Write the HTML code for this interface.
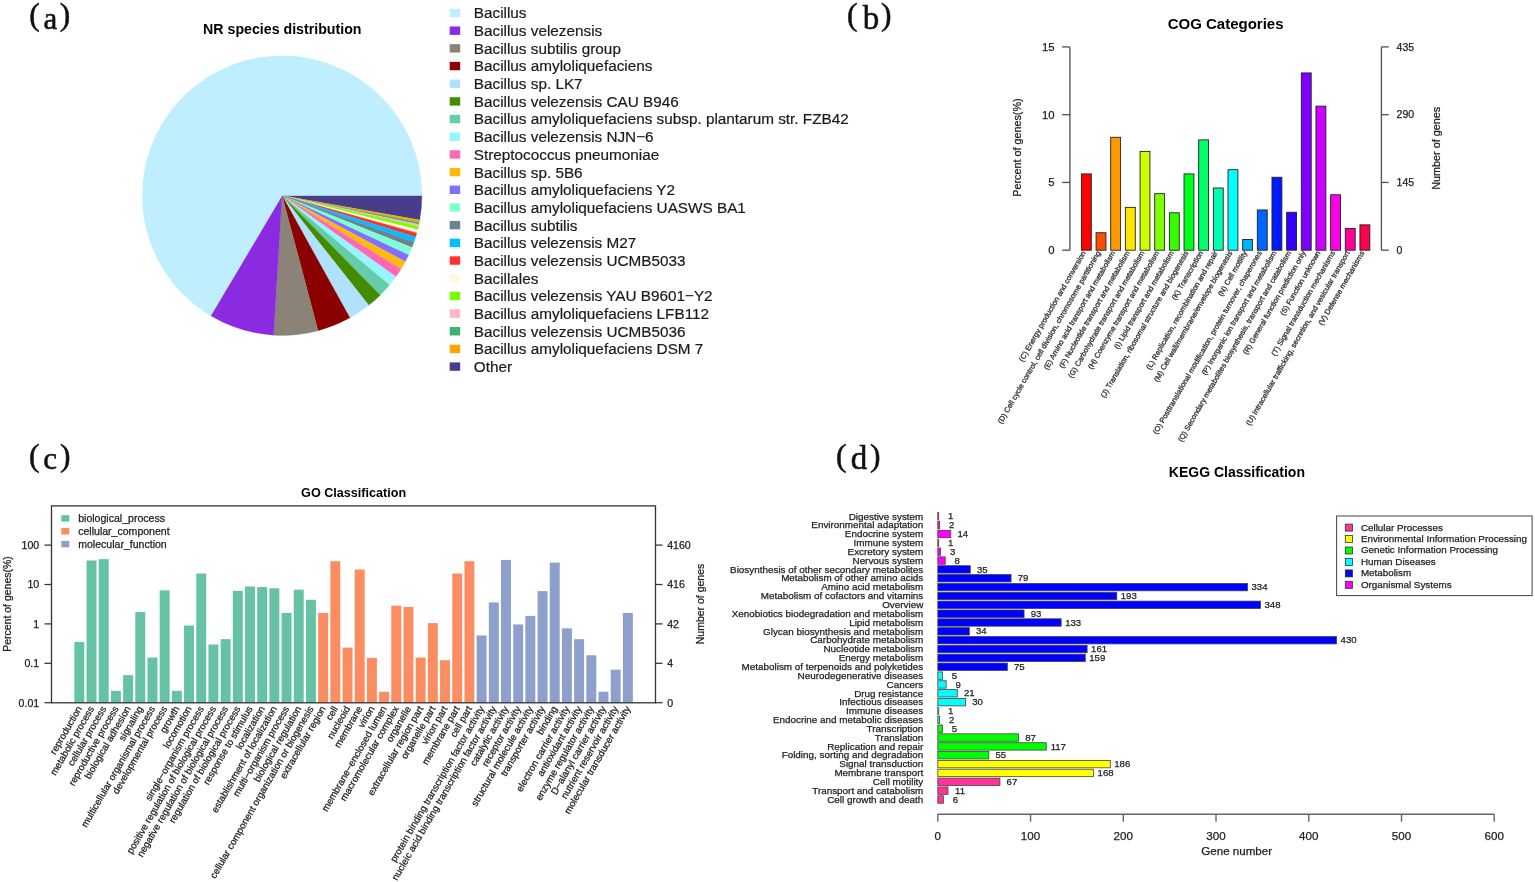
<!DOCTYPE html>
<html><head><meta charset="utf-8"><title>Genome annotation figure</title>
<style>
html,body{margin:0;padding:0;background:#fff;}
svg{display:block;}
text{font-family:'Liberation Sans', Arial, Helvetica, sans-serif;}
</style></head>
<body>
<svg width="1535" height="882" viewBox="0 0 1535 882">
<rect width="1535" height="882" fill="#fff"/>
<text style="font-family:'Liberation Serif', 'Times New Roman', serif" font-size="31.5" fill="#111" stroke="#111" stroke-width="0.55"><tspan x="29.16" y="24.9">(</tspan><tspan x="43.4" y="28.7" font-size="31">a</tspan><tspan x="59.69" y="24.9">)</tspan></text>
<text style="font-family:'Liberation Serif', 'Times New Roman', serif" font-size="31.5" fill="#111" stroke="#111" stroke-width="0.55"><tspan x="847.11" y="24.9">(</tspan><tspan x="862.7" y="28.7" font-size="33">b</tspan><tspan x="881.09" y="24.9">)</tspan></text>
<text style="font-family:'Liberation Serif', 'Times New Roman', serif" font-size="31.5" fill="#111" stroke="#111" stroke-width="0.55"><tspan x="28.96" y="465.8">(</tspan><tspan x="43.35" y="468.9" font-size="31">c</tspan><tspan x="60.09" y="465.8">)</tspan></text>
<text style="font-family:'Liberation Serif', 'Times New Roman', serif" font-size="31.5" fill="#111" stroke="#111" stroke-width="0.55"><tspan x="836.11" y="465.8">(</tspan><tspan x="850.7" y="469.3" font-size="33">d</tspan><tspan x="870.09" y="465.8">)</tspan></text>
<g shape-rendering="geometricPrecision">
<path d="M282.1,195.6 L421.9,195.6 A139.8,139.8 0 0 1 419.73,220.12 Z" fill="#483D8B" stroke="#483D8B" stroke-width="0.3"/>
<path d="M282.1,195.6 L419.73,220.12 A139.8,139.8 0 0 1 419.28,222.51 Z" fill="#FFA500" stroke="#FFA500" stroke-width="0.3"/>
<path d="M282.1,195.6 L419.28,222.51 A139.8,139.8 0 0 1 418.9,224.43 Z" fill="#3CB371" stroke="#3CB371" stroke-width="0.3"/>
<path d="M282.1,195.6 L418.9,224.43 A139.8,139.8 0 0 1 418.48,226.33 Z" fill="#FFB6C1" stroke="#FFB6C1" stroke-width="0.3"/>
<path d="M282.1,195.6 L418.48,226.33 A139.8,139.8 0 0 1 417.69,229.66 Z" fill="#7CFC00" stroke="#7CFC00" stroke-width="0.3"/>
<path d="M282.1,195.6 L417.69,229.66 A139.8,139.8 0 0 1 416.82,232.96 Z" fill="#FFF8DC" stroke="#FFF8DC" stroke-width="0.3"/>
<path d="M282.1,195.6 L416.82,232.96 A139.8,139.8 0 0 1 415.65,236.94 Z" fill="#FF3030" stroke="#FF3030" stroke-width="0.3"/>
<path d="M282.1,195.6 L415.65,236.94 A139.8,139.8 0 0 1 413.88,242.27 Z" fill="#00BFFF" stroke="#00BFFF" stroke-width="0.3"/>
<path d="M282.1,195.6 L413.88,242.27 A139.8,139.8 0 0 1 411.9,247.52 Z" fill="#708090" stroke="#708090" stroke-width="0.3"/>
<path d="M282.1,195.6 L411.9,247.52 A139.8,139.8 0 0 1 408.59,255.12 Z" fill="#7FFFD4" stroke="#7FFFD4" stroke-width="0.3"/>
<path d="M282.1,195.6 L408.59,255.12 A139.8,139.8 0 0 1 405.31,261.66 Z" fill="#836FFF" stroke="#836FFF" stroke-width="0.3"/>
<path d="M282.1,195.6 L405.31,261.66 A139.8,139.8 0 0 1 400.91,269.27 Z" fill="#FFB90F" stroke="#FFB90F" stroke-width="0.3"/>
<path d="M282.1,195.6 L400.91,269.27 A139.8,139.8 0 0 1 395.91,276.78 Z" fill="#FF69B4" stroke="#FF69B4" stroke-width="0.3"/>
<path d="M282.1,195.6 L395.91,276.78 A139.8,139.8 0 0 1 389.51,285.09 Z" fill="#98F5FF" stroke="#98F5FF" stroke-width="0.3"/>
<path d="M282.1,195.6 L389.51,285.09 A139.8,139.8 0 0 1 380.26,295.14 Z" fill="#66CDAA" stroke="#66CDAA" stroke-width="0.3"/>
<path d="M282.1,195.6 L380.26,295.14 A139.8,139.8 0 0 1 368.75,305.31 Z" fill="#458B00" stroke="#458B00" stroke-width="0.3"/>
<path d="M282.1,195.6 L368.75,305.31 A139.8,139.8 0 0 1 349.88,317.87 Z" fill="#B0E2FF" stroke="#B0E2FF" stroke-width="0.3"/>
<path d="M282.1,195.6 L349.88,317.87 A139.8,139.8 0 0 1 318.05,330.7 Z" fill="#8B0000" stroke="#8B0000" stroke-width="0.3"/>
<path d="M282.1,195.6 L318.05,330.7 A139.8,139.8 0 0 1 273.57,335.14 Z" fill="#8B8378" stroke="#8B8378" stroke-width="0.3"/>
<path d="M282.1,195.6 L273.57,335.14 A139.8,139.8 0 0 1 210.73,315.81 Z" fill="#8A2BE2" stroke="#8A2BE2" stroke-width="0.3"/>
<path d="M282.1,195.6 L210.73,315.81 A139.8,139.8 0 1 1 421.9,195.6 Z" fill="#BFEFFF" stroke="#BFEFFF" stroke-width="0.3"/>
</g>
<text x="282.3" y="33.8" font-size="14.2" text-anchor="middle" font-weight="bold">NR species distribution</text>
<rect x="449.7" y="8.8" width="10.5" height="8.4" fill="#BFEFFF"/>
<text x="473.8" y="18.4" font-size="15.3" stroke="#1a1a1a" stroke-width="0.2" fill="#1a1a1a">Bacillus</text>
<rect x="449.7" y="26.48" width="10.5" height="8.4" fill="#8A2BE2"/>
<text x="473.8" y="36.08" font-size="15.3" stroke="#1a1a1a" stroke-width="0.2" fill="#1a1a1a">Bacillus velezensis</text>
<rect x="449.7" y="44.16" width="10.5" height="8.4" fill="#8B8378"/>
<text x="473.8" y="53.76" font-size="15.3" stroke="#1a1a1a" stroke-width="0.2" fill="#1a1a1a">Bacillus subtilis group</text>
<rect x="449.7" y="61.84" width="10.5" height="8.4" fill="#8B0000"/>
<text x="473.8" y="71.44" font-size="15.3" stroke="#1a1a1a" stroke-width="0.2" fill="#1a1a1a">Bacillus amyloliquefaciens</text>
<rect x="449.7" y="79.52" width="10.5" height="8.4" fill="#B0E2FF"/>
<text x="473.8" y="89.12" font-size="15.3" stroke="#1a1a1a" stroke-width="0.2" fill="#1a1a1a">Bacillus sp. LK7</text>
<rect x="449.7" y="97.2" width="10.5" height="8.4" fill="#458B00"/>
<text x="473.8" y="106.8" font-size="15.3" stroke="#1a1a1a" stroke-width="0.2" fill="#1a1a1a">Bacillus velezensis CAU B946</text>
<rect x="449.7" y="114.88" width="10.5" height="8.4" fill="#66CDAA"/>
<text x="473.8" y="124.48" font-size="15.3" stroke="#1a1a1a" stroke-width="0.2" fill="#1a1a1a">Bacillus amyloliquefaciens subsp. plantarum str. FZB42</text>
<rect x="449.7" y="132.56" width="10.5" height="8.4" fill="#98F5FF"/>
<text x="473.8" y="142.16" font-size="15.3" stroke="#1a1a1a" stroke-width="0.2" fill="#1a1a1a">Bacillus velezensis NJN&#8722;6</text>
<rect x="449.7" y="150.24" width="10.5" height="8.4" fill="#FF69B4"/>
<text x="473.8" y="159.84" font-size="15.3" stroke="#1a1a1a" stroke-width="0.2" fill="#1a1a1a">Streptococcus pneumoniae</text>
<rect x="449.7" y="167.92" width="10.5" height="8.4" fill="#FFB90F"/>
<text x="473.8" y="177.52" font-size="15.3" stroke="#1a1a1a" stroke-width="0.2" fill="#1a1a1a">Bacillus sp. 5B6</text>
<rect x="449.7" y="185.6" width="10.5" height="8.4" fill="#836FFF"/>
<text x="473.8" y="195.2" font-size="15.3" stroke="#1a1a1a" stroke-width="0.2" fill="#1a1a1a">Bacillus amyloliquefaciens Y2</text>
<rect x="449.7" y="203.28" width="10.5" height="8.4" fill="#7FFFD4"/>
<text x="473.8" y="212.88" font-size="15.3" stroke="#1a1a1a" stroke-width="0.2" fill="#1a1a1a">Bacillus amyloliquefaciens UASWS BA1</text>
<rect x="449.7" y="220.96" width="10.5" height="8.4" fill="#708090"/>
<text x="473.8" y="230.56" font-size="15.3" stroke="#1a1a1a" stroke-width="0.2" fill="#1a1a1a">Bacillus subtilis</text>
<rect x="449.7" y="238.64" width="10.5" height="8.4" fill="#00BFFF"/>
<text x="473.8" y="248.24" font-size="15.3" stroke="#1a1a1a" stroke-width="0.2" fill="#1a1a1a">Bacillus velezensis M27</text>
<rect x="449.7" y="256.32" width="10.5" height="8.4" fill="#FF3030"/>
<text x="473.8" y="265.92" font-size="15.3" stroke="#1a1a1a" stroke-width="0.2" fill="#1a1a1a">Bacillus velezensis UCMB5033</text>
<rect x="449.7" y="274" width="10.5" height="8.4" fill="#FFF8DC"/>
<text x="473.8" y="283.6" font-size="15.3" stroke="#1a1a1a" stroke-width="0.2" fill="#1a1a1a">Bacillales</text>
<rect x="449.7" y="291.68" width="10.5" height="8.4" fill="#7CFC00"/>
<text x="473.8" y="301.28" font-size="15.3" stroke="#1a1a1a" stroke-width="0.2" fill="#1a1a1a">Bacillus velezensis YAU B9601&#8722;Y2</text>
<rect x="449.7" y="309.36" width="10.5" height="8.4" fill="#FFB6C1"/>
<text x="473.8" y="318.96" font-size="15.3" stroke="#1a1a1a" stroke-width="0.2" fill="#1a1a1a">Bacillus amyloliquefaciens LFB112</text>
<rect x="449.7" y="327.04" width="10.5" height="8.4" fill="#3CB371"/>
<text x="473.8" y="336.64" font-size="15.3" stroke="#1a1a1a" stroke-width="0.2" fill="#1a1a1a">Bacillus velezensis UCMB5036</text>
<rect x="449.7" y="344.72" width="10.5" height="8.4" fill="#FFA500"/>
<text x="473.8" y="354.32" font-size="15.3" stroke="#1a1a1a" stroke-width="0.2" fill="#1a1a1a">Bacillus amyloliquefaciens DSM 7</text>
<rect x="449.7" y="362.4" width="10.5" height="8.4" fill="#483D8B"/>
<text x="473.8" y="372" font-size="15.3" stroke="#1a1a1a" stroke-width="0.2" fill="#1a1a1a">Other</text>
<rect x="1081.4" y="173.9" width="9.9" height="76.3" fill="#FF0000" stroke="#222" stroke-width="0.9"/>
<rect x="1096.06" y="232.72" width="9.9" height="17.48" fill="#FF4D00" stroke="#222" stroke-width="0.9"/>
<rect x="1110.72" y="137.3" width="9.9" height="112.9" fill="#FF9900" stroke="#222" stroke-width="0.9"/>
<rect x="1125.38" y="207.37" width="9.9" height="42.83" fill="#FFE500" stroke="#222" stroke-width="0.9"/>
<rect x="1140.04" y="151.4" width="9.9" height="98.8" fill="#CCFF00" stroke="#222" stroke-width="0.9"/>
<rect x="1154.7" y="193.68" width="9.9" height="56.52" fill="#80FF00" stroke="#222" stroke-width="0.9"/>
<rect x="1169.36" y="212.79" width="9.9" height="37.41" fill="#33FF00" stroke="#222" stroke-width="0.9"/>
<rect x="1184.02" y="173.9" width="9.9" height="76.3" fill="#00FF19" stroke="#222" stroke-width="0.9"/>
<rect x="1198.68" y="139.88" width="9.9" height="110.32" fill="#00FF66" stroke="#222" stroke-width="0.9"/>
<rect x="1213.34" y="187.99" width="9.9" height="62.21" fill="#00FFB2" stroke="#222" stroke-width="0.9"/>
<rect x="1228" y="169.7" width="9.9" height="80.5" fill="#00FFFF" stroke="#222" stroke-width="0.9"/>
<rect x="1242.66" y="239.49" width="9.9" height="10.71" fill="#00B3FF" stroke="#222" stroke-width="0.9"/>
<rect x="1257.32" y="209.95" width="9.9" height="40.25" fill="#0066FF" stroke="#222" stroke-width="0.9"/>
<rect x="1271.98" y="177.28" width="9.9" height="72.92" fill="#001AFF" stroke="#222" stroke-width="0.9"/>
<rect x="1286.64" y="212.25" width="9.9" height="37.95" fill="#3300FF" stroke="#222" stroke-width="0.9"/>
<rect x="1301.3" y="72.93" width="9.9" height="177.27" fill="#7F00FF" stroke="#222" stroke-width="0.9"/>
<rect x="1315.96" y="106.13" width="9.9" height="144.07" fill="#CC00FF" stroke="#222" stroke-width="0.9"/>
<rect x="1330.62" y="194.77" width="9.9" height="55.43" fill="#FF00E6" stroke="#222" stroke-width="0.9"/>
<rect x="1345.28" y="228.52" width="9.9" height="21.68" fill="#FF0099" stroke="#222" stroke-width="0.9"/>
<rect x="1359.94" y="224.86" width="9.9" height="25.34" fill="#FF004D" stroke="#222" stroke-width="0.9"/>
<path d="M1069.9,250.2 V46.9" stroke="#555" stroke-width="1.35" fill="none"/>
<path d="M1069.9,250.2 H1062.1000000000001" stroke="#555" stroke-width="1.35"/>
<text x="1054.6" y="254.2" font-size="11.3" stroke="#222" stroke-width="0.25" text-anchor="end" fill="#222">0</text>
<path d="M1069.9,182.44 H1062.1000000000001" stroke="#555" stroke-width="1.35"/>
<text x="1054.6" y="186.44" font-size="11.3" stroke="#222" stroke-width="0.25" text-anchor="end" fill="#222">5</text>
<path d="M1069.9,114.67 H1062.1000000000001" stroke="#555" stroke-width="1.35"/>
<text x="1054.6" y="118.67" font-size="11.3" stroke="#222" stroke-width="0.25" text-anchor="end" fill="#222">10</text>
<path d="M1069.9,46.9 H1062.1000000000001" stroke="#555" stroke-width="1.35"/>
<text x="1054.6" y="50.9" font-size="11.3" stroke="#222" stroke-width="0.25" text-anchor="end" fill="#222">15</text>
<path d="M1381.4,250.2 V46.9" stroke="#555" stroke-width="1.35" fill="none"/>
<path d="M1381.4,250.2 H1388.7" stroke="#555" stroke-width="1.35"/>
<text x="1396.6" y="254" font-size="10.5" stroke="#222" stroke-width="0.25" fill="#222">0</text>
<path d="M1381.4,182.44 H1388.7" stroke="#555" stroke-width="1.35"/>
<text x="1396.6" y="186.24" font-size="10.5" stroke="#222" stroke-width="0.25" fill="#222">145</text>
<path d="M1381.4,114.67 H1388.7" stroke="#555" stroke-width="1.35"/>
<text x="1396.6" y="118.47" font-size="10.5" stroke="#222" stroke-width="0.25" fill="#222">290</text>
<path d="M1381.4,46.9 H1388.7" stroke="#555" stroke-width="1.35"/>
<text x="1396.6" y="50.7" font-size="10.5" stroke="#222" stroke-width="0.25" fill="#222">435</text>
<text transform="translate(1020.8,147.6) rotate(-90)" font-size="10.8" text-anchor="middle" stroke="#222" stroke-width="0.25" fill="#222">Percent of genes(%)</text>
<text transform="translate(1440.2,148.3) rotate(-90)" font-size="10.8" text-anchor="middle" stroke="#222" stroke-width="0.25" fill="#222">Number of genes</text>
<text x="1225.6" y="28.8" font-size="15" text-anchor="middle" font-weight="bold">COG Categories</text>
<text transform="translate(1083.85,251.5) rotate(-60)" font-size="7.5" text-anchor="end" dy="2.6" stroke="#333" stroke-width="0.3" fill="#333">(C) Energy production and conversion</text>
<text transform="translate(1098.51,251.5) rotate(-60)" font-size="7.5" text-anchor="end" dy="2.6" stroke="#333" stroke-width="0.3" fill="#333">(D) Cell cycle control, cell division, chromosome partitioning</text>
<text transform="translate(1113.17,251.5) rotate(-60)" font-size="7.5" text-anchor="end" dy="2.6" stroke="#333" stroke-width="0.3" fill="#333">(E) Amino acid transport and metabolism</text>
<text transform="translate(1127.83,251.5) rotate(-60)" font-size="7.5" text-anchor="end" dy="2.6" stroke="#333" stroke-width="0.3" fill="#333">(F) Nucleotide transport and metabolism</text>
<text transform="translate(1142.49,251.5) rotate(-60)" font-size="7.5" text-anchor="end" dy="2.6" stroke="#333" stroke-width="0.3" fill="#333">(G) Carbohydrate transport and metabolism</text>
<text transform="translate(1157.15,251.5) rotate(-60)" font-size="7.5" text-anchor="end" dy="2.6" stroke="#333" stroke-width="0.3" fill="#333">(H) Coenzyme transport and metabolism</text>
<text transform="translate(1171.81,251.5) rotate(-60)" font-size="7.5" text-anchor="end" dy="2.6" stroke="#333" stroke-width="0.3" fill="#333">(I) Lipid transport and metabolism</text>
<text transform="translate(1186.47,251.5) rotate(-60)" font-size="7.5" text-anchor="end" dy="2.6" stroke="#333" stroke-width="0.3" fill="#333">(J) Translation, ribosomal structure and biogenesis</text>
<text transform="translate(1201.13,251.5) rotate(-60)" font-size="7.5" text-anchor="end" dy="2.6" stroke="#333" stroke-width="0.3" fill="#333">(K) Transcription</text>
<text transform="translate(1215.79,251.5) rotate(-60)" font-size="7.5" text-anchor="end" dy="2.6" stroke="#333" stroke-width="0.3" fill="#333">(L) Replication, recombination and repair</text>
<text transform="translate(1230.45,251.5) rotate(-60)" font-size="7.5" text-anchor="end" dy="2.6" stroke="#333" stroke-width="0.3" fill="#333">(M) Cell wall/membrane/envelope biogenesis</text>
<text transform="translate(1245.11,251.5) rotate(-60)" font-size="7.5" text-anchor="end" dy="2.6" stroke="#333" stroke-width="0.3" fill="#333">(N) Cell motility</text>
<text transform="translate(1259.77,251.5) rotate(-60)" font-size="7.5" text-anchor="end" dy="2.6" stroke="#333" stroke-width="0.3" fill="#333">(O) Posttranslational modification, protein turnover, chaperones</text>
<text transform="translate(1274.43,251.5) rotate(-60)" font-size="7.5" text-anchor="end" dy="2.6" stroke="#333" stroke-width="0.3" fill="#333">(P) Inorganic ion transport and metabolism</text>
<text transform="translate(1289.09,251.5) rotate(-60)" font-size="7.5" text-anchor="end" dy="2.6" stroke="#333" stroke-width="0.3" fill="#333">(Q) Secondary metabolites biosynthesis, transport and catabolism</text>
<text transform="translate(1303.75,251.5) rotate(-60)" font-size="7.5" text-anchor="end" dy="2.6" stroke="#333" stroke-width="0.3" fill="#333">(R) General function prediction only</text>
<text transform="translate(1318.41,251.5) rotate(-60)" font-size="7.5" text-anchor="end" dy="2.6" stroke="#333" stroke-width="0.3" fill="#333">(S) Function unknown</text>
<text transform="translate(1333.07,251.5) rotate(-60)" font-size="7.5" text-anchor="end" dy="2.6" stroke="#333" stroke-width="0.3" fill="#333">(T) Signal transduction mechanisms</text>
<text transform="translate(1347.73,251.5) rotate(-60)" font-size="7.5" text-anchor="end" dy="2.6" stroke="#333" stroke-width="0.3" fill="#333">(U) Intracellular trafficking, secretion, and vesicular transport</text>
<text transform="translate(1362.39,251.5) rotate(-60)" font-size="7.5" text-anchor="end" dy="2.6" stroke="#333" stroke-width="0.3" fill="#333">(V) Defense mechanisms</text>
<rect x="74.35" y="641.86" width="9.95" height="60.94" fill="#66C2A5"/>
<rect x="86.54" y="560.48" width="9.95" height="142.32" fill="#66C2A5"/>
<rect x="98.73" y="559.15" width="9.95" height="143.65" fill="#66C2A5"/>
<rect x="110.92" y="690.84" width="9.95" height="11.96" fill="#66C2A5"/>
<rect x="123.11" y="675.16" width="9.95" height="27.64" fill="#66C2A5"/>
<rect x="135.3" y="612.04" width="9.95" height="90.76" fill="#66C2A5"/>
<rect x="147.49" y="657.54" width="9.95" height="45.26" fill="#66C2A5"/>
<rect x="159.68" y="590.36" width="9.95" height="112.44" fill="#66C2A5"/>
<rect x="171.87" y="690.84" width="9.95" height="11.96" fill="#66C2A5"/>
<rect x="184.06" y="625.51" width="9.95" height="77.29" fill="#66C2A5"/>
<rect x="196.25" y="573.52" width="9.95" height="129.28" fill="#66C2A5"/>
<rect x="208.44" y="644.5" width="9.95" height="58.3" fill="#66C2A5"/>
<rect x="220.63" y="639.16" width="9.95" height="63.64" fill="#66C2A5"/>
<rect x="232.82" y="590.85" width="9.95" height="111.95" fill="#66C2A5"/>
<rect x="245.01" y="586.49" width="9.95" height="116.31" fill="#66C2A5"/>
<rect x="257.2" y="587.08" width="9.95" height="115.72" fill="#66C2A5"/>
<rect x="269.39" y="588.32" width="9.95" height="114.48" fill="#66C2A5"/>
<rect x="281.58" y="612.92" width="9.95" height="89.88" fill="#66C2A5"/>
<rect x="293.77" y="589.65" width="9.95" height="113.15" fill="#66C2A5"/>
<rect x="305.96" y="599.76" width="9.95" height="103.04" fill="#66C2A5"/>
<rect x="318.15" y="612.92" width="9.95" height="89.88" fill="#FC8D62"/>
<rect x="330.34" y="561.21" width="9.95" height="141.59" fill="#FC8D62"/>
<rect x="342.53" y="647.62" width="9.95" height="55.18" fill="#FC8D62"/>
<rect x="354.72" y="569.52" width="9.95" height="133.28" fill="#FC8D62"/>
<rect x="366.91" y="657.91" width="9.95" height="44.89" fill="#FC8D62"/>
<rect x="379.1" y="691.72" width="9.95" height="11.08" fill="#FC8D62"/>
<rect x="391.29" y="605.68" width="9.95" height="97.12" fill="#FC8D62"/>
<rect x="403.48" y="606.9" width="9.95" height="95.9" fill="#FC8D62"/>
<rect x="415.67" y="657.54" width="9.95" height="45.26" fill="#FC8D62"/>
<rect x="427.86" y="623.07" width="9.95" height="79.73" fill="#FC8D62"/>
<rect x="440.05" y="660.18" width="9.95" height="42.62" fill="#FC8D62"/>
<rect x="452.24" y="573.52" width="9.95" height="129.28" fill="#FC8D62"/>
<rect x="464.43" y="561.21" width="9.95" height="141.59" fill="#FC8D62"/>
<rect x="476.62" y="635.42" width="9.95" height="67.38" fill="#8DA0CB"/>
<rect x="488.81" y="602.46" width="9.95" height="100.34" fill="#8DA0CB"/>
<rect x="501" y="559.94" width="9.95" height="142.86" fill="#8DA0CB"/>
<rect x="513.19" y="624.42" width="9.95" height="78.38" fill="#8DA0CB"/>
<rect x="525.38" y="615.86" width="9.95" height="86.94" fill="#8DA0CB"/>
<rect x="537.57" y="591.1" width="9.95" height="111.7" fill="#8DA0CB"/>
<rect x="549.76" y="562.58" width="9.95" height="140.22" fill="#8DA0CB"/>
<rect x="561.95" y="628.37" width="9.95" height="74.43" fill="#8DA0CB"/>
<rect x="574.14" y="639.16" width="9.95" height="63.64" fill="#8DA0CB"/>
<rect x="586.33" y="655.26" width="9.95" height="47.54" fill="#8DA0CB"/>
<rect x="598.52" y="691.72" width="9.95" height="11.08" fill="#8DA0CB"/>
<rect x="610.71" y="669.65" width="9.95" height="33.15" fill="#8DA0CB"/>
<rect x="622.9" y="612.92" width="9.95" height="89.88" fill="#8DA0CB"/>
<rect x="51.5" y="505.9" width="604" height="196.9" fill="none" stroke="#333" stroke-width="1.3"/>
<path d="M51.5,545.1 H44.5" stroke="#333" stroke-width="1.25"/>
<text x="39.2" y="548.9" font-size="10.6" stroke="#222" stroke-width="0.25" text-anchor="end" fill="#222">100</text>
<path d="M51.5,584.5 H44.5" stroke="#333" stroke-width="1.25"/>
<text x="39.2" y="588.3" font-size="10.6" stroke="#222" stroke-width="0.25" text-anchor="end" fill="#222">10</text>
<path d="M51.5,623.9 H44.5" stroke="#333" stroke-width="1.25"/>
<text x="39.2" y="627.7" font-size="10.6" stroke="#222" stroke-width="0.25" text-anchor="end" fill="#222">1</text>
<path d="M51.5,663.3 H44.5" stroke="#333" stroke-width="1.25"/>
<text x="39.2" y="667.1" font-size="10.6" stroke="#222" stroke-width="0.25" text-anchor="end" fill="#222">0.1</text>
<path d="M51.5,702.7 H44.5" stroke="#333" stroke-width="1.25"/>
<text x="39.2" y="706.5" font-size="10.6" stroke="#222" stroke-width="0.25" text-anchor="end" fill="#222">0.01</text>
<path d="M655.5,545.1 H662.5" stroke="#333" stroke-width="1.25"/>
<text x="667.2" y="548.9" font-size="10.6" stroke="#222" stroke-width="0.25" fill="#222">4160</text>
<path d="M655.5,584.5 H662.5" stroke="#333" stroke-width="1.25"/>
<text x="667.2" y="588.3" font-size="10.6" stroke="#222" stroke-width="0.25" fill="#222">416</text>
<path d="M655.5,623.9 H662.5" stroke="#333" stroke-width="1.25"/>
<text x="667.2" y="627.7" font-size="10.6" stroke="#222" stroke-width="0.25" fill="#222">42</text>
<path d="M655.5,663.3 H662.5" stroke="#333" stroke-width="1.25"/>
<text x="667.2" y="667.1" font-size="10.6" stroke="#222" stroke-width="0.25" fill="#222">4</text>
<path d="M655.5,702.7 H662.5" stroke="#333" stroke-width="1.25"/>
<text x="667.2" y="706.5" font-size="10.6" stroke="#222" stroke-width="0.25" fill="#222">0</text>
<text transform="translate(10.8,604) rotate(-90)" font-size="10.5" text-anchor="middle" stroke="#222" stroke-width="0.25" fill="#222">Percent of genes(%)</text>
<text transform="translate(703.8,604) rotate(-90)" font-size="10.5" text-anchor="middle" stroke="#222" stroke-width="0.25" fill="#222">Number of genes</text>
<text x="353.6" y="497.2" font-size="12.6" text-anchor="middle" font-weight="bold">GO Classification</text>
<rect x="61.3" y="515.2" width="8" height="6.4" fill="#66C2A5"/>
<text x="78.2" y="522.2" font-size="10.55" stroke="#222" stroke-width="0.25" fill="#222">biological_process</text>
<rect x="61.3" y="528.05" width="8" height="6.4" fill="#FC8D62"/>
<text x="78.2" y="535.05" font-size="10.55" stroke="#222" stroke-width="0.25" fill="#222">cellular_component</text>
<rect x="61.3" y="540.9" width="8" height="6.4" fill="#8DA0CB"/>
<text x="78.2" y="547.9" font-size="10.55" stroke="#222" stroke-width="0.25" fill="#222">molecular_function</text>
<text transform="translate(79.32,706.8) rotate(-60)" font-size="9.7" text-anchor="end" dy="3.4" stroke="#222" stroke-width="0.25" fill="#222">reproduction</text>
<text transform="translate(91.51,706.8) rotate(-60)" font-size="9.7" text-anchor="end" dy="3.4" stroke="#222" stroke-width="0.25" fill="#222">metabolic process</text>
<text transform="translate(103.7,706.8) rotate(-60)" font-size="9.7" text-anchor="end" dy="3.4" stroke="#222" stroke-width="0.25" fill="#222">cellular process</text>
<text transform="translate(115.89,706.8) rotate(-60)" font-size="9.7" text-anchor="end" dy="3.4" stroke="#222" stroke-width="0.25" fill="#222">reproductive process</text>
<text transform="translate(128.08,706.8) rotate(-60)" font-size="9.7" text-anchor="end" dy="3.4" stroke="#222" stroke-width="0.25" fill="#222">biological adhesion</text>
<text transform="translate(140.27,706.8) rotate(-60)" font-size="9.7" text-anchor="end" dy="3.4" stroke="#222" stroke-width="0.25" fill="#222">signaling</text>
<text transform="translate(152.47,706.8) rotate(-60)" font-size="9.7" text-anchor="end" dy="3.4" stroke="#222" stroke-width="0.25" fill="#222">multicellular organismal process</text>
<text transform="translate(164.66,706.8) rotate(-60)" font-size="9.7" text-anchor="end" dy="3.4" stroke="#222" stroke-width="0.25" fill="#222">developmental process</text>
<text transform="translate(176.84,706.8) rotate(-60)" font-size="9.7" text-anchor="end" dy="3.4" stroke="#222" stroke-width="0.25" fill="#222">growth</text>
<text transform="translate(189.03,706.8) rotate(-60)" font-size="9.7" text-anchor="end" dy="3.4" stroke="#222" stroke-width="0.25" fill="#222">locomotion</text>
<text transform="translate(201.22,706.8) rotate(-60)" font-size="9.7" text-anchor="end" dy="3.4" stroke="#222" stroke-width="0.25" fill="#222">single&#8722;organism process</text>
<text transform="translate(213.41,706.8) rotate(-60)" font-size="9.7" text-anchor="end" dy="3.4" stroke="#222" stroke-width="0.25" fill="#222">positive regulation of biological process</text>
<text transform="translate(225.6,706.8) rotate(-60)" font-size="9.7" text-anchor="end" dy="3.4" stroke="#222" stroke-width="0.25" fill="#222">negative regulation of biological process</text>
<text transform="translate(237.79,706.8) rotate(-60)" font-size="9.7" text-anchor="end" dy="3.4" stroke="#222" stroke-width="0.25" fill="#222">regulation of biological process</text>
<text transform="translate(249.98,706.8) rotate(-60)" font-size="9.7" text-anchor="end" dy="3.4" stroke="#222" stroke-width="0.25" fill="#222">response to stimulus</text>
<text transform="translate(262.18,706.8) rotate(-60)" font-size="9.7" text-anchor="end" dy="3.4" stroke="#222" stroke-width="0.25" fill="#222">localization</text>
<text transform="translate(274.37,706.8) rotate(-60)" font-size="9.7" text-anchor="end" dy="3.4" stroke="#222" stroke-width="0.25" fill="#222">establishment of localization</text>
<text transform="translate(286.56,706.8) rotate(-60)" font-size="9.7" text-anchor="end" dy="3.4" stroke="#222" stroke-width="0.25" fill="#222">multi&#8722;organism process</text>
<text transform="translate(298.75,706.8) rotate(-60)" font-size="9.7" text-anchor="end" dy="3.4" stroke="#222" stroke-width="0.25" fill="#222">biological regulation</text>
<text transform="translate(310.94,706.8) rotate(-60)" font-size="9.7" text-anchor="end" dy="3.4" stroke="#222" stroke-width="0.25" fill="#222">cellular component organization or biogenesis</text>
<text transform="translate(323.12,706.8) rotate(-60)" font-size="9.7" text-anchor="end" dy="3.4" stroke="#222" stroke-width="0.25" fill="#222">extracellular region</text>
<text transform="translate(335.31,706.8) rotate(-60)" font-size="9.7" text-anchor="end" dy="3.4" stroke="#222" stroke-width="0.25" fill="#222">cell</text>
<text transform="translate(347.5,706.8) rotate(-60)" font-size="9.7" text-anchor="end" dy="3.4" stroke="#222" stroke-width="0.25" fill="#222">nucleoid</text>
<text transform="translate(359.7,706.8) rotate(-60)" font-size="9.7" text-anchor="end" dy="3.4" stroke="#222" stroke-width="0.25" fill="#222">membrane</text>
<text transform="translate(371.88,706.8) rotate(-60)" font-size="9.7" text-anchor="end" dy="3.4" stroke="#222" stroke-width="0.25" fill="#222">virion</text>
<text transform="translate(384.08,706.8) rotate(-60)" font-size="9.7" text-anchor="end" dy="3.4" stroke="#222" stroke-width="0.25" fill="#222">membrane&#8722;enclosed lumen</text>
<text transform="translate(396.26,706.8) rotate(-60)" font-size="9.7" text-anchor="end" dy="3.4" stroke="#222" stroke-width="0.25" fill="#222">macromolecular complex</text>
<text transform="translate(408.46,706.8) rotate(-60)" font-size="9.7" text-anchor="end" dy="3.4" stroke="#222" stroke-width="0.25" fill="#222">organelle</text>
<text transform="translate(420.64,706.8) rotate(-60)" font-size="9.7" text-anchor="end" dy="3.4" stroke="#222" stroke-width="0.25" fill="#222">extracellular region part</text>
<text transform="translate(432.84,706.8) rotate(-60)" font-size="9.7" text-anchor="end" dy="3.4" stroke="#222" stroke-width="0.25" fill="#222">organelle part</text>
<text transform="translate(445.02,706.8) rotate(-60)" font-size="9.7" text-anchor="end" dy="3.4" stroke="#222" stroke-width="0.25" fill="#222">virion part</text>
<text transform="translate(457.22,706.8) rotate(-60)" font-size="9.7" text-anchor="end" dy="3.4" stroke="#222" stroke-width="0.25" fill="#222">membrane part</text>
<text transform="translate(469.4,706.8) rotate(-60)" font-size="9.7" text-anchor="end" dy="3.4" stroke="#222" stroke-width="0.25" fill="#222">cell part</text>
<text transform="translate(481.6,706.8) rotate(-60)" font-size="9.7" text-anchor="end" dy="3.4" stroke="#222" stroke-width="0.25" fill="#222">protein binding transcription factor activity</text>
<text transform="translate(493.78,706.8) rotate(-60)" font-size="9.7" text-anchor="end" dy="3.4" stroke="#222" stroke-width="0.25" fill="#222">nucleic acid binding transcription factor activity</text>
<text transform="translate(505.98,706.8) rotate(-60)" font-size="9.7" text-anchor="end" dy="3.4" stroke="#222" stroke-width="0.25" fill="#222">catalytic activity</text>
<text transform="translate(518.16,706.8) rotate(-60)" font-size="9.7" text-anchor="end" dy="3.4" stroke="#222" stroke-width="0.25" fill="#222">receptor activity</text>
<text transform="translate(530.36,706.8) rotate(-60)" font-size="9.7" text-anchor="end" dy="3.4" stroke="#222" stroke-width="0.25" fill="#222">structural molecule activity</text>
<text transform="translate(542.54,706.8) rotate(-60)" font-size="9.7" text-anchor="end" dy="3.4" stroke="#222" stroke-width="0.25" fill="#222">transporter activity</text>
<text transform="translate(554.74,706.8) rotate(-60)" font-size="9.7" text-anchor="end" dy="3.4" stroke="#222" stroke-width="0.25" fill="#222">binding</text>
<text transform="translate(566.92,706.8) rotate(-60)" font-size="9.7" text-anchor="end" dy="3.4" stroke="#222" stroke-width="0.25" fill="#222">electron carrier activity</text>
<text transform="translate(579.12,706.8) rotate(-60)" font-size="9.7" text-anchor="end" dy="3.4" stroke="#222" stroke-width="0.25" fill="#222">antioxidant activity</text>
<text transform="translate(591.3,706.8) rotate(-60)" font-size="9.7" text-anchor="end" dy="3.4" stroke="#222" stroke-width="0.25" fill="#222">enzyme regulator activity</text>
<text transform="translate(603.5,706.8) rotate(-60)" font-size="9.7" text-anchor="end" dy="3.4" stroke="#222" stroke-width="0.25" fill="#222">D&#8722;alanyl carrier activity</text>
<text transform="translate(615.69,706.8) rotate(-60)" font-size="9.7" text-anchor="end" dy="3.4" stroke="#222" stroke-width="0.25" fill="#222">nutrient reservoir activity</text>
<text transform="translate(627.88,706.8) rotate(-60)" font-size="9.7" text-anchor="end" dy="3.4" stroke="#222" stroke-width="0.25" fill="#222">molecular transducer activity</text>
<rect x="937.8" y="512.6" width="0.93" height="7.4" fill="#FF00FF" stroke="#444" stroke-width="0.8"/>
<text x="923.3" y="519.5" font-size="9.9" stroke="#222" stroke-width="0.25" text-anchor="end" fill="#222">Digestive system</text>
<text x="950.73" y="519.4" font-size="9.6" stroke="#222" stroke-width="0.25" text-anchor="middle" fill="#222">1</text>
<rect x="937.8" y="521.45" width="1.85" height="7.4" fill="#FF00FF" stroke="#444" stroke-width="0.8"/>
<text x="923.3" y="528.35" font-size="9.9" stroke="#222" stroke-width="0.25" text-anchor="end" fill="#222">Environmental adaptation</text>
<text x="951.65" y="528.25" font-size="9.6" stroke="#222" stroke-width="0.25" text-anchor="middle" fill="#222">2</text>
<rect x="937.8" y="530.3" width="12.98" height="7.4" fill="#FF00FF" stroke="#444" stroke-width="0.8"/>
<text x="923.3" y="537.2" font-size="9.9" stroke="#222" stroke-width="0.25" text-anchor="end" fill="#222">Endocrine system</text>
<text x="962.78" y="537.1" font-size="9.6" stroke="#222" stroke-width="0.25" text-anchor="middle" fill="#222">14</text>
<rect x="937.8" y="539.15" width="0.93" height="7.4" fill="#FF00FF" stroke="#444" stroke-width="0.8"/>
<text x="923.3" y="546.05" font-size="9.9" stroke="#222" stroke-width="0.25" text-anchor="end" fill="#222">Immune system</text>
<text x="950.73" y="545.95" font-size="9.6" stroke="#222" stroke-width="0.25" text-anchor="middle" fill="#222">1</text>
<rect x="937.8" y="548" width="2.78" height="7.4" fill="#FF00FF" stroke="#444" stroke-width="0.8"/>
<text x="923.3" y="554.9" font-size="9.9" stroke="#222" stroke-width="0.25" text-anchor="end" fill="#222">Excretory system</text>
<text x="952.58" y="554.8" font-size="9.6" stroke="#222" stroke-width="0.25" text-anchor="middle" fill="#222">3</text>
<rect x="937.8" y="556.85" width="7.42" height="7.4" fill="#FF00FF" stroke="#444" stroke-width="0.8"/>
<text x="923.3" y="563.75" font-size="9.9" stroke="#222" stroke-width="0.25" text-anchor="end" fill="#222">Nervous system</text>
<text x="957.22" y="563.65" font-size="9.6" stroke="#222" stroke-width="0.25" text-anchor="middle" fill="#222">8</text>
<rect x="937.8" y="565.7" width="32.46" height="7.4" fill="#0000FF" stroke="#444" stroke-width="0.8"/>
<text x="923.3" y="572.6" font-size="9.9" stroke="#222" stroke-width="0.25" text-anchor="end" fill="#222">Biosynthesis of other secondary metabolites</text>
<text x="982.26" y="572.5" font-size="9.6" stroke="#222" stroke-width="0.25" text-anchor="middle" fill="#222">35</text>
<rect x="937.8" y="574.55" width="73.26" height="7.4" fill="#0000FF" stroke="#444" stroke-width="0.8"/>
<text x="923.3" y="581.45" font-size="9.9" stroke="#222" stroke-width="0.25" text-anchor="end" fill="#222">Metabolism of other amino acids</text>
<text x="1023.06" y="581.35" font-size="9.6" stroke="#222" stroke-width="0.25" text-anchor="middle" fill="#222">79</text>
<rect x="937.8" y="583.4" width="309.75" height="7.4" fill="#0000FF" stroke="#444" stroke-width="0.8"/>
<text x="923.3" y="590.3" font-size="9.9" stroke="#222" stroke-width="0.25" text-anchor="end" fill="#222">Amino acid metabolism</text>
<text x="1259.55" y="590.2" font-size="9.6" stroke="#222" stroke-width="0.25" text-anchor="middle" fill="#222">334</text>
<rect x="937.8" y="592.25" width="178.99" height="7.4" fill="#0000FF" stroke="#444" stroke-width="0.8"/>
<text x="923.3" y="599.15" font-size="9.9" stroke="#222" stroke-width="0.25" text-anchor="end" fill="#222">Metabolism of cofactors and vitamins</text>
<text x="1128.79" y="599.05" font-size="9.6" stroke="#222" stroke-width="0.25" text-anchor="middle" fill="#222">193</text>
<rect x="937.8" y="601.1" width="322.74" height="7.4" fill="#0000FF" stroke="#444" stroke-width="0.8"/>
<text x="923.3" y="608" font-size="9.9" stroke="#222" stroke-width="0.25" text-anchor="end" fill="#222">Overview</text>
<text x="1272.54" y="607.9" font-size="9.6" stroke="#222" stroke-width="0.25" text-anchor="middle" fill="#222">348</text>
<rect x="937.8" y="609.95" width="86.25" height="7.4" fill="#0000FF" stroke="#444" stroke-width="0.8"/>
<text x="923.3" y="616.85" font-size="9.9" stroke="#222" stroke-width="0.25" text-anchor="end" fill="#222">Xenobiotics biodegradation and metabolism</text>
<text x="1036.05" y="616.75" font-size="9.6" stroke="#222" stroke-width="0.25" text-anchor="middle" fill="#222">93</text>
<rect x="937.8" y="618.8" width="123.34" height="7.4" fill="#0000FF" stroke="#444" stroke-width="0.8"/>
<text x="923.3" y="625.7" font-size="9.9" stroke="#222" stroke-width="0.25" text-anchor="end" fill="#222">Lipid metabolism</text>
<text x="1073.14" y="625.6" font-size="9.6" stroke="#222" stroke-width="0.25" text-anchor="middle" fill="#222">133</text>
<rect x="937.8" y="627.65" width="31.53" height="7.4" fill="#0000FF" stroke="#444" stroke-width="0.8"/>
<text x="923.3" y="634.55" font-size="9.9" stroke="#222" stroke-width="0.25" text-anchor="end" fill="#222">Glycan biosynthesis and metabolism</text>
<text x="981.33" y="634.45" font-size="9.6" stroke="#222" stroke-width="0.25" text-anchor="middle" fill="#222">34</text>
<rect x="937.8" y="636.5" width="398.78" height="7.4" fill="#0000FF" stroke="#444" stroke-width="0.8"/>
<text x="923.3" y="643.4" font-size="9.9" stroke="#222" stroke-width="0.25" text-anchor="end" fill="#222">Carbohydrate metabolism</text>
<text x="1348.58" y="643.3" font-size="9.6" stroke="#222" stroke-width="0.25" text-anchor="middle" fill="#222">430</text>
<rect x="937.8" y="645.35" width="149.31" height="7.4" fill="#0000FF" stroke="#444" stroke-width="0.8"/>
<text x="923.3" y="652.25" font-size="9.9" stroke="#222" stroke-width="0.25" text-anchor="end" fill="#222">Nucleotide metabolism</text>
<text x="1099.11" y="652.15" font-size="9.6" stroke="#222" stroke-width="0.25" text-anchor="middle" fill="#222">161</text>
<rect x="937.8" y="654.2" width="147.46" height="7.4" fill="#0000FF" stroke="#444" stroke-width="0.8"/>
<text x="923.3" y="661.1" font-size="9.9" stroke="#222" stroke-width="0.25" text-anchor="end" fill="#222">Energy metabolism</text>
<text x="1097.26" y="661" font-size="9.6" stroke="#222" stroke-width="0.25" text-anchor="middle" fill="#222">159</text>
<rect x="937.8" y="663.05" width="69.56" height="7.4" fill="#0000FF" stroke="#444" stroke-width="0.8"/>
<text x="923.3" y="669.95" font-size="9.9" stroke="#222" stroke-width="0.25" text-anchor="end" fill="#222">Metabolism of terpenoids and polyketides</text>
<text x="1019.36" y="669.85" font-size="9.6" stroke="#222" stroke-width="0.25" text-anchor="middle" fill="#222">75</text>
<rect x="937.8" y="671.9" width="4.64" height="7.4" fill="#00FFFF" stroke="#444" stroke-width="0.8"/>
<text x="923.3" y="678.8" font-size="9.9" stroke="#222" stroke-width="0.25" text-anchor="end" fill="#222">Neurodegenerative diseases</text>
<text x="954.44" y="678.7" font-size="9.6" stroke="#222" stroke-width="0.25" text-anchor="middle" fill="#222">5</text>
<rect x="937.8" y="680.75" width="8.35" height="7.4" fill="#00FFFF" stroke="#444" stroke-width="0.8"/>
<text x="923.3" y="687.65" font-size="9.9" stroke="#222" stroke-width="0.25" text-anchor="end" fill="#222">Cancers</text>
<text x="958.15" y="687.55" font-size="9.6" stroke="#222" stroke-width="0.25" text-anchor="middle" fill="#222">9</text>
<rect x="937.8" y="689.6" width="19.48" height="7.4" fill="#00FFFF" stroke="#444" stroke-width="0.8"/>
<text x="923.3" y="696.5" font-size="9.9" stroke="#222" stroke-width="0.25" text-anchor="end" fill="#222">Drug resistance</text>
<text x="969.28" y="696.4" font-size="9.6" stroke="#222" stroke-width="0.25" text-anchor="middle" fill="#222">21</text>
<rect x="937.8" y="698.45" width="27.82" height="7.4" fill="#00FFFF" stroke="#444" stroke-width="0.8"/>
<text x="923.3" y="705.35" font-size="9.9" stroke="#222" stroke-width="0.25" text-anchor="end" fill="#222">Infectious diseases</text>
<text x="977.62" y="705.25" font-size="9.6" stroke="#222" stroke-width="0.25" text-anchor="middle" fill="#222">30</text>
<rect x="937.8" y="707.3" width="0.93" height="7.4" fill="#00FFFF" stroke="#444" stroke-width="0.8"/>
<text x="923.3" y="714.2" font-size="9.9" stroke="#222" stroke-width="0.25" text-anchor="end" fill="#222">Immune diseases</text>
<text x="950.73" y="714.1" font-size="9.6" stroke="#222" stroke-width="0.25" text-anchor="middle" fill="#222">1</text>
<rect x="937.8" y="716.15" width="1.85" height="7.4" fill="#00FFFF" stroke="#444" stroke-width="0.8"/>
<text x="923.3" y="723.05" font-size="9.9" stroke="#222" stroke-width="0.25" text-anchor="end" fill="#222">Endocrine and metabolic diseases</text>
<text x="951.65" y="722.95" font-size="9.6" stroke="#222" stroke-width="0.25" text-anchor="middle" fill="#222">2</text>
<rect x="937.8" y="725" width="4.64" height="7.4" fill="#00FF00" stroke="#444" stroke-width="0.8"/>
<text x="923.3" y="731.9" font-size="9.9" stroke="#222" stroke-width="0.25" text-anchor="end" fill="#222">Transcription</text>
<text x="954.44" y="731.8" font-size="9.6" stroke="#222" stroke-width="0.25" text-anchor="middle" fill="#222">5</text>
<rect x="937.8" y="733.85" width="80.68" height="7.4" fill="#00FF00" stroke="#444" stroke-width="0.8"/>
<text x="923.3" y="740.75" font-size="9.9" stroke="#222" stroke-width="0.25" text-anchor="end" fill="#222">Translation</text>
<text x="1030.48" y="740.65" font-size="9.6" stroke="#222" stroke-width="0.25" text-anchor="middle" fill="#222">87</text>
<rect x="937.8" y="742.7" width="108.51" height="7.4" fill="#00FF00" stroke="#444" stroke-width="0.8"/>
<text x="923.3" y="749.6" font-size="9.9" stroke="#222" stroke-width="0.25" text-anchor="end" fill="#222">Replication and repair</text>
<text x="1058.31" y="749.5" font-size="9.6" stroke="#222" stroke-width="0.25" text-anchor="middle" fill="#222">117</text>
<rect x="937.8" y="751.55" width="51.01" height="7.4" fill="#00FF00" stroke="#444" stroke-width="0.8"/>
<text x="923.3" y="758.45" font-size="9.9" stroke="#222" stroke-width="0.25" text-anchor="end" fill="#222">Folding, sorting and degradation</text>
<text x="1000.81" y="758.35" font-size="9.6" stroke="#222" stroke-width="0.25" text-anchor="middle" fill="#222">55</text>
<rect x="937.8" y="760.4" width="172.5" height="7.4" fill="#FFFF00" stroke="#444" stroke-width="0.8"/>
<text x="923.3" y="767.3" font-size="9.9" stroke="#222" stroke-width="0.25" text-anchor="end" fill="#222">Signal transduction</text>
<text x="1122.3" y="767.2" font-size="9.6" stroke="#222" stroke-width="0.25" text-anchor="middle" fill="#222">186</text>
<rect x="937.8" y="769.25" width="155.8" height="7.4" fill="#FFFF00" stroke="#444" stroke-width="0.8"/>
<text x="923.3" y="776.15" font-size="9.9" stroke="#222" stroke-width="0.25" text-anchor="end" fill="#222">Membrane transport</text>
<text x="1105.6" y="776.05" font-size="9.6" stroke="#222" stroke-width="0.25" text-anchor="middle" fill="#222">168</text>
<rect x="937.8" y="778.1" width="62.14" height="7.4" fill="#FF3399" stroke="#444" stroke-width="0.8"/>
<text x="923.3" y="785" font-size="9.9" stroke="#222" stroke-width="0.25" text-anchor="end" fill="#222">Cell motility</text>
<text x="1011.94" y="784.9" font-size="9.6" stroke="#222" stroke-width="0.25" text-anchor="middle" fill="#222">67</text>
<rect x="937.8" y="786.95" width="10.2" height="7.4" fill="#FF3399" stroke="#444" stroke-width="0.8"/>
<text x="923.3" y="793.85" font-size="9.9" stroke="#222" stroke-width="0.25" text-anchor="end" fill="#222">Transport and catabolism</text>
<text x="960" y="793.75" font-size="9.6" stroke="#222" stroke-width="0.25" text-anchor="middle" fill="#222">11</text>
<rect x="937.8" y="795.8" width="5.56" height="7.4" fill="#FF3399" stroke="#444" stroke-width="0.8"/>
<text x="923.3" y="802.7" font-size="9.9" stroke="#222" stroke-width="0.25" text-anchor="end" fill="#222">Cell growth and death</text>
<text x="955.36" y="802.6" font-size="9.6" stroke="#222" stroke-width="0.25" text-anchor="middle" fill="#222">6</text>
<path d="M937.8,814.3 H1494.24" stroke="#666" stroke-width="1.4"/>
<path d="M937.8,814.3 V821.6999999999999" stroke="#666" stroke-width="1.4"/>
<text x="937.8" y="840.2" font-size="11.6" stroke="#222" stroke-width="0.25" text-anchor="middle" fill="#222">0</text>
<path d="M1030.54,814.3 V821.6999999999999" stroke="#666" stroke-width="1.4"/>
<text x="1030.54" y="840.2" font-size="11.6" stroke="#222" stroke-width="0.25" text-anchor="middle" fill="#222">100</text>
<path d="M1123.28,814.3 V821.6999999999999" stroke="#666" stroke-width="1.4"/>
<text x="1123.28" y="840.2" font-size="11.6" stroke="#222" stroke-width="0.25" text-anchor="middle" fill="#222">200</text>
<path d="M1216.02,814.3 V821.6999999999999" stroke="#666" stroke-width="1.4"/>
<text x="1216.02" y="840.2" font-size="11.6" stroke="#222" stroke-width="0.25" text-anchor="middle" fill="#222">300</text>
<path d="M1308.76,814.3 V821.6999999999999" stroke="#666" stroke-width="1.4"/>
<text x="1308.76" y="840.2" font-size="11.6" stroke="#222" stroke-width="0.25" text-anchor="middle" fill="#222">400</text>
<path d="M1401.5,814.3 V821.6999999999999" stroke="#666" stroke-width="1.4"/>
<text x="1401.5" y="840.2" font-size="11.6" stroke="#222" stroke-width="0.25" text-anchor="middle" fill="#222">500</text>
<path d="M1494.24,814.3 V821.6999999999999" stroke="#666" stroke-width="1.4"/>
<text x="1494.24" y="840.2" font-size="11.6" stroke="#222" stroke-width="0.25" text-anchor="middle" fill="#222">600</text>
<text x="1236.7" y="855.3" font-size="11.6" stroke="#222" stroke-width="0.25" text-anchor="middle" fill="#222">Gene number</text>
<text x="1236.9" y="476.9" font-size="14" text-anchor="middle" font-weight="bold">KEGG Classification</text>
<rect x="1336.6" y="516.0" width="195.5" height="79.6" fill="none" stroke="#444" stroke-width="1"/>
<rect x="1345.3" y="524.1" width="7.1" height="7" fill="#FF3399" stroke="#333" stroke-width="0.8"/>
<text x="1360.9" y="530.5" font-size="9.84" stroke="#222" stroke-width="0.25" fill="#222">Cellular Processes</text>
<rect x="1345.3" y="535.55" width="7.1" height="7" fill="#FFFF00" stroke="#333" stroke-width="0.8"/>
<text x="1360.9" y="541.95" font-size="9.84" stroke="#222" stroke-width="0.25" fill="#222">Environmental Information Processing</text>
<rect x="1345.3" y="547" width="7.1" height="7" fill="#00FF00" stroke="#333" stroke-width="0.8"/>
<text x="1360.9" y="553.4" font-size="9.84" stroke="#222" stroke-width="0.25" fill="#222">Genetic Information Processing</text>
<rect x="1345.3" y="558.45" width="7.1" height="7" fill="#00FFFF" stroke="#333" stroke-width="0.8"/>
<text x="1360.9" y="564.85" font-size="9.84" stroke="#222" stroke-width="0.25" fill="#222">Human Diseases</text>
<rect x="1345.3" y="569.9" width="7.1" height="7" fill="#0000FF" stroke="#333" stroke-width="0.8"/>
<text x="1360.9" y="576.3" font-size="9.84" stroke="#222" stroke-width="0.25" fill="#222">Metabolism</text>
<rect x="1345.3" y="581.35" width="7.1" height="7" fill="#FF00FF" stroke="#333" stroke-width="0.8"/>
<text x="1360.9" y="587.75" font-size="9.84" stroke="#222" stroke-width="0.25" fill="#222">Organismal Systems</text>
</svg>
</body></html>
